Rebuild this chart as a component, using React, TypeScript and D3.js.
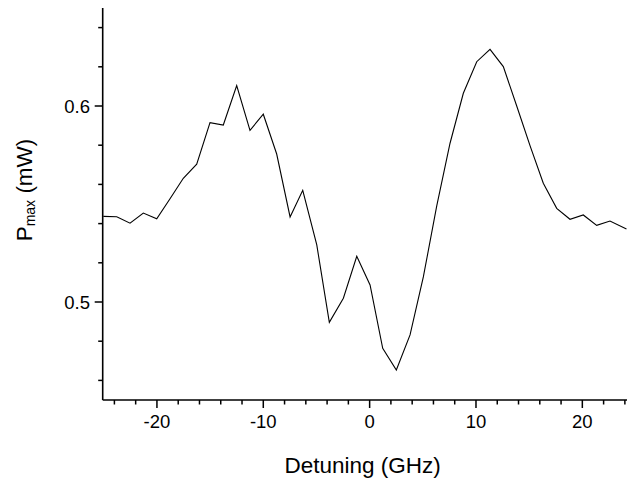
import React from "react";
import * as d3 from "d3";

const detuning = [
  -25.04, -23.78, -22.53, -21.28, -20.02, -18.77, -17.52, -16.26, -15.01, -13.76,
  -12.5, -11.25, -10.0, -8.74, -7.48, -6.29, -4.97, -3.79, -2.47, -1.21,
  0.04, 1.23, 2.51, 3.8, 5.05, 6.31, 7.56, 8.81, 10.07, 11.32,
  12.57, 13.83, 15.08, 16.33, 17.59, 18.84, 20.09, 21.35, 22.6, 24.15,
];
const pmax = [
  0.5437, 0.5435, 0.5402, 0.5454, 0.5425, 0.5527, 0.5631, 0.5703, 0.5915, 0.5903,
  0.6104, 0.5876, 0.5958, 0.5755, 0.5434, 0.557, 0.5291, 0.4896, 0.5019, 0.5233,
  0.5087, 0.4764, 0.4653, 0.4832, 0.5128, 0.549, 0.581, 0.6065, 0.6226, 0.6289,
  0.6201, 0.6, 0.5798, 0.5606, 0.5478, 0.5422, 0.5444, 0.5391, 0.5413, 0.5372,
];
const xMajorTicks = [-20, -10, 0, 10, 20];
const xMinorTicks = [-24, -22, -18, -16, -14, -12, -8, -6, -4, -2, 2, 4, 6, 8, 12, 14, 16, 18, 22, 24];
const yMajorTicks = [0.5, 0.6];
const yMinorTicks = [0.46, 0.48, 0.52, 0.54, 0.56, 0.58, 0.62, 0.64];

const W = 627;
const H = 479;
const left = 102.7;
const right = 627;
const top = 8;
const bottom = 400;
const FONT = "'Liberation Sans', Arial, Helvetica, sans-serif";

export default function App() {
  const x = d3.scaleLinear().domain([-25.1, 24.2]).range([left, right]);
  const y = d3.scaleLinear().domain([0.45, 0.65]).range([bottom, top]);
  const pts = detuning.map((d, i) => [d, pmax[i]] as [number, number]);
  const line = d3
    .line<[number, number]>()
    .x((d) => x(d[0]))
    .y((d) => y(d[1]));

  return (
    <svg
      width={W}
      height={H}
      style={{ position: "absolute", left: 0, top: 0, background: "#fff" }}
      fontFamily={FONT}
    >
      <rect width={W} height={H} fill="#fff" />
      <path d={line(pts) || ""} fill="none" stroke="#000" strokeWidth={1.1} />
      {/* axes */}
      <line x1={left} x2={left} y1={top} y2={bottom} stroke="#000" strokeWidth={1.6} />
      <line x1={left} x2={right + 2} y1={bottom} y2={bottom} stroke="#000" strokeWidth={1.6} />
      {xMajorTicks.map((t) => (
        <g key={"xM" + t}>
          <line x1={x(t)} x2={x(t)} y1={bottom} y2={bottom + 8} stroke="#000" strokeWidth={1.5} />
          <text x={x(t)} y={428} fontSize={18.5} textAnchor="middle" fill="#000">
            {t}
          </text>
        </g>
      ))}
      {xMinorTicks.map((t) => (
        <line key={"xm" + t} x1={x(t)} x2={x(t)} y1={bottom} y2={bottom + 4.5} stroke="#000" strokeWidth={1.5} />
      ))}
      {yMajorTicks.map((t) => (
        <g key={"yM" + t}>
          <line x1={left - 8} x2={left} y1={y(t)} y2={y(t)} stroke="#000" strokeWidth={1.5} />
          <text x={90} y={y(t) + 6.6} fontSize={18.5} textAnchor="end" fill="#000">
            {t.toFixed(1)}
          </text>
        </g>
      ))}
      {yMinorTicks.map((t) => (
        <line key={"ym" + t} x1={left - 4.5} x2={left} y1={y(t)} y2={y(t)} stroke="#000" strokeWidth={1.5} />
      ))}
      <text x={362.6} y={473} fontSize={22.5} textAnchor="middle" fill="#000">
        Detuning (GHz)
      </text>
      <text transform="translate(32,190) rotate(-90)" fontSize={22.5} textAnchor="middle" fill="#000">
        P
        <tspan fontSize={14} dy={3}>max</tspan>
        <tspan dy={-3}> (mW)</tspan>
      </text>
    </svg>
  );
}
